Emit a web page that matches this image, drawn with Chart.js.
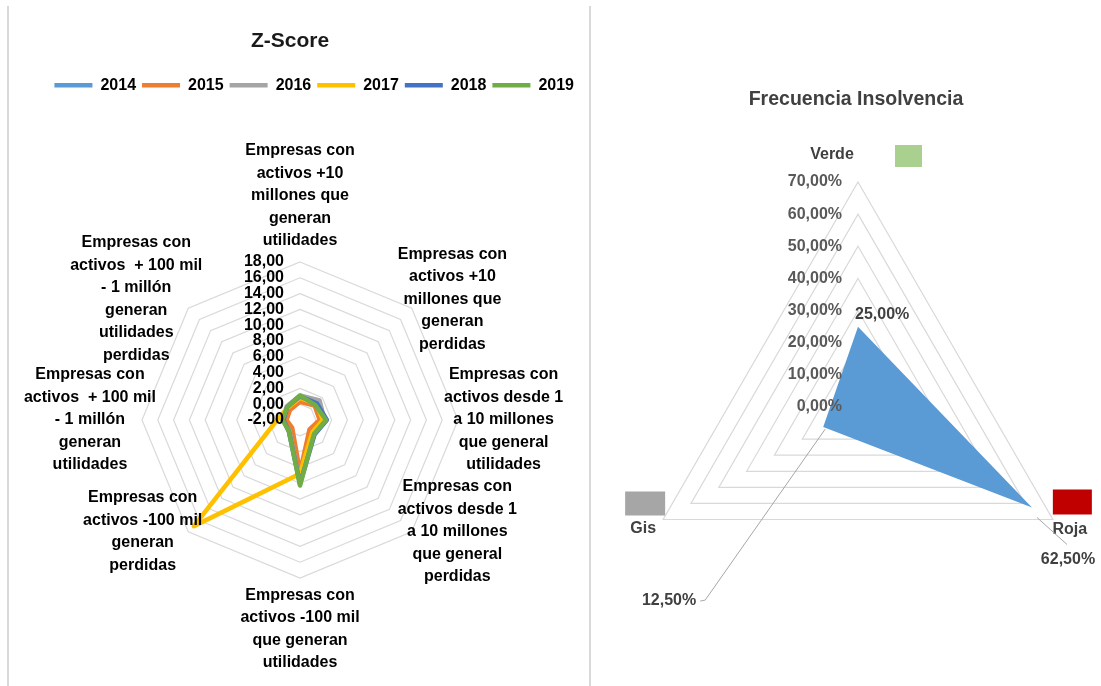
<!DOCTYPE html>
<html lang="es">
<head>
<meta charset="utf-8">
<title>Z-Score y Frecuencia Insolvencia</title>
<script src="https://cdn.jsdelivr.net/npm/chart.js@4.4.1/dist/chart.umd.min.js"></script>
<style>
  html, body { margin: 0; padding: 0; background: #fff; }
  body { width: 1101px; height: 686px; position: relative; overflow: hidden; }
  .marco {
    position: absolute; left: 7px; top: 6px; width: 584px; height: 680px;
    box-sizing: border-box;
    border-left: 2px solid #d9d9d9; border-right: 2px solid #d9d9d9;
  }
  #zscore { position: absolute; left: 0; top: 0; }
  #insolvencia { position: absolute; left: 611px; top: 0; }
</style>
</head>
<body>
<div class="marco"></div>
<canvas id="zscore" width="580" height="686"></canvas>
<canvas id="insolvencia" width="490" height="686"></canvas>
<script>
// categorias del radar Z-Score (cada una partida en lineas)
const categorias = [
  ['Empresas con', 'activos +10', 'millones que', 'generan', 'utilidades'],
  ['Empresas con', 'activos +10', 'millones que', 'generan', 'perdidas'],
  ['Empresas con', 'activos desde 1', 'a 10 millones', 'que general', 'utilidades'],
  ['Empresas con', 'activos desde 1', 'a 10 millones', 'que general', 'perdidas'],
  ['Empresas con', 'activos -100 mil', 'que generan', 'utilidades'],
  ['Empresas con', 'activos -100 mil', 'generan', 'perdidas'],
  ['Empresas con', 'activos  + 100 mil', '- 1 millón', 'generan', 'utilidades'],
  ['Empresas con', 'activos  + 100 mil', '- 1 millón', 'generan', 'utilidades', 'perdidas']
];

const anios = ['2014', '2015', '2016', '2017', '2018', '2019'];
const coloresAnio = ['#5b9bd5', '#ed7d31', '#a5a5a5', '#ffc000', '#4472c4', '#70ad47'];

const z2014 = [1.0, 1.4, 1.0, 0.3, 5.8, -0.2, 0.1, 0.3];
const z2015 = [0.3, 0.6, 0.5, -0.3, 4.6, -0.6, -0.3, -0.2];
const z2016 = [1.1, 1.5, 1.1, 0.4, 6.0, -0.1, 0.2, 0.4];
const z2017 = [0.8, 0.9, 0.9, 0.2, 4.8, 17.0, 0.9, 0.2];
const z2018 = [1.0, 1.0, 1.4, 0.6, 6.1, 0.0, 0.1, 0.3];
const z2019 = [1.1, 0.7, 1.3, 0.5, 6.3, 0.0, 0.2, 0.3];
const zTicks = [-2, 0, 2, 4, 6, 8, 10, 12, 14, 16, 18];

// frecuencia de insolvencia por nivel
const niveles = ['Verde', 'Roja', 'Gis'];
const nivelColores = ['#a9d08e', '#c00000', '#a6a6a6'];
const frecuencia = [25, 62.5, 12.5];
const pctTicks = [0, 10, 20, 30, 40, 50, 60, 70];

const zScores = [z2014, z2015, z2016, z2017, z2018, z2019];

const FUENTE = '"Liberation Sans", Arial, sans-serif';
Chart.defaults.font.family = FUENTE;

const coma = v => v.toFixed(2).replace('.', ',');
const pct = v => coma(v) + '%';

// deja el centro y el radio del radar donde se indica
const fijarRadar = {
  id: 'fijarRadar',
  afterLayout(chart, args, opts) {
    const r = chart.scales.r;
    r.xCenter = opts.x;
    r.yCenter = opts.y;
    r.drawingArea = opts.radio;
  }
};

// valores del eje y nombres de categoria del Z-Score
const rotulosZ = {
  id: 'rotulosZ',
  afterDraw(chart) {
    const ctx = chart.ctx;
    const r = chart.scales.r;
    ctx.save();
    ctx.fillStyle = '#000';
    ctx.font = 'bold 16px ' + FUENTE;
    ctx.textBaseline = 'middle';

    ctx.textAlign = 'right';
    r.ticks.forEach(t => {
      const p = r.getPointPositionForValue(0, t.value);
      ctx.fillText(coma(t.value), p.x - 16, p.y);
    });

    ctx.textAlign = 'center';
    const lh = 22.5;
    chart.data.labels.forEach((lineas, i) => {
      const p = r.getPointPosition(i, r.drawingArea);
      const ang = r.getIndexAngle(i);
      const dx = Math.sin(ang);
      const dy = -Math.cos(ang);
      const w = Math.max(...lineas.map(s => ctx.measureText(s).width));
      const h = lineas.length * lh;
      let cx, cy;
      if (Math.abs(dx) < 0.1) {
        cx = p.x;
        cy = dy < 0 ? p.y - 10 - h / 2 : p.y + 6 + h / 2;
      } else {
        cx = dx > 0 ? p.x - 14 + w / 2 : p.x + 14 - w / 2;
        cy = p.y + (dy < -0.1 ? -9 : 0);
      }
      const y0 = cy - h / 2 + lh / 2;
      lineas.forEach((s, j) => ctx.fillText(s, cx, y0 + j * lh));
    });
    ctx.restore();
  }
};

new Chart(document.getElementById('zscore'), {
  type: 'radar',
  data: {
    labels: categorias,
    datasets: anios.map((anio, i) => ({
      label: anio,
      data: zScores[i],
      borderColor: coloresAnio[i],
      backgroundColor: coloresAnio[i],
      borderWidth: 4.5,
      borderJoinStyle: 'round',
      fill: false,
      pointRadius: 0,
      pointHoverRadius: 0,
      order: anios.length - 1 - i,
      clip: false
    }))
  },
  options: {
    responsive: false,
    animation: false,
    events: [],
    layout: { padding: 0 },
    plugins: {
      title: {
        display: true,
        text: 'Z-Score',
        color: '#1a1a1a',
        font: { size: 21, weight: 'bold' },
        padding: { top: 29, bottom: 17 }
      },
      legend: {
        position: 'top',
        align: 'end',
        labels: {
          usePointStyle: true,
          pointStyle: 'line',
          pointStyleWidth: 38,
          color: '#000',
          font: { size: 16, weight: 'bold' },
          padding: 6,
          sort: (a, b) => a.datasetIndex - b.datasetIndex
        }
      },
      tooltip: { enabled: false },
      fijarRadar: { x: 300, y: 420, radio: 158 }
    },
    scales: {
      r: {
        min: zTicks[0],
        max: zTicks[zTicks.length - 1],
        ticks: { display: false, stepSize: zTicks[1] - zTicks[0] },
        grid: { color: '#d9d9d9', lineWidth: 1.2 },
        angleLines: { display: false },
        pointLabels: { display: false }
      }
    }
  },
  plugins: [fijarRadar, rotulosZ]
});

// donde va cada nombre de nivel y su cuadro de color, respecto al vertice
const ubicacionNiveles = [
  { texto: [-26, -27], caja: [37, -37, 27, 22] },
  { texto: [17, 10], caja: [0, -30, 39, 25] },
  { texto: [-20, 9], caja: [-38, -28, 40, 24] }
];
// donde va cada valor respecto a su punto, con linea guia si esta lejos
const ubicacionValores = [
  { alinear: 'left', texto: [-3, -12], guia: null },
  { alinear: 'center', texto: [36, 52], guia: [[5, 10], [35, 37]] },
  { alinear: 'right', texto: [-127, 174], guia: [[2, 2], [-118, 173], [-123, 174]] }
];

const rotulosFrecuencia = {
  id: 'rotulosFrecuencia',
  afterDraw(chart) {
    const ctx = chart.ctx;
    const r = chart.scales.r;
    ctx.save();
    ctx.font = 'bold 16px ' + FUENTE;
    ctx.textBaseline = 'middle';

    ctx.fillStyle = '#595959';
    ctx.textAlign = 'right';
    r.ticks.forEach(t => {
      const p = r.getPointPositionForValue(0, t.value);
      ctx.fillText(pct(t.value), p.x - 16, p.y);
    });

    ctx.textAlign = 'center';
    chart.data.labels.forEach((nivel, i) => {
      const p = r.getPointPosition(i, r.drawingArea);
      const u = ubicacionNiveles[i];
      ctx.fillStyle = nivelColores[i];
      ctx.fillRect(p.x + u.caja[0], p.y + u.caja[1], u.caja[2], u.caja[3]);
      ctx.fillStyle = '#404040';
      ctx.fillText(nivel, p.x + u.texto[0], p.y + u.texto[1]);
    });

    chart.data.datasets[0].data.forEach((v, i) => {
      const p = r.getPointPositionForValue(i, v);
      const e = ubicacionValores[i];
      if (e.guia) {
        ctx.strokeStyle = '#a6a6a6';
        ctx.lineWidth = 1;
        ctx.beginPath();
        e.guia.forEach(([gx, gy], k) => {
          if (k === 0) ctx.moveTo(p.x + gx, p.y + gy);
          else ctx.lineTo(p.x + gx, p.y + gy);
        });
        ctx.stroke();
      }
      ctx.fillStyle = '#404040';
      ctx.textAlign = e.alinear;
      ctx.fillText(pct(v), p.x + e.texto[0], p.y + e.texto[1]);
    });
    ctx.restore();
  }
};

new Chart(document.getElementById('insolvencia'), {
  type: 'radar',
  data: {
    labels: niveles,
    datasets: [{
      label: 'Frecuencia',
      data: frecuencia,
      backgroundColor: '#5b9bd5',
      borderColor: '#5b9bd5',
      borderWidth: 0,
      fill: true,
      pointRadius: 0,
      pointHoverRadius: 0,
      clip: false
    }]
  },
  options: {
    responsive: false,
    animation: false,
    events: [],
    layout: { padding: 0 },
    plugins: {
      title: {
        display: true,
        text: 'Frecuencia Insolvencia',
        color: '#404040',
        font: { size: 19.5, weight: 'bold' },
        padding: { top: 88, bottom: 20 }
      },
      legend: { display: false },
      tooltip: { enabled: false },
      fijarRadar: { x: 247, y: 407, radio: 225 }
    },
    scales: {
      r: {
        min: pctTicks[0],
        max: pctTicks[pctTicks.length - 1],
        ticks: { display: false, stepSize: pctTicks[1] - pctTicks[0] },
        grid: { color: '#d9d9d9', lineWidth: 1.2 },
        angleLines: { display: false },
        pointLabels: { display: false }
      }
    }
  },
  plugins: [fijarRadar, rotulosFrecuencia]
});
</script>
</body>
</html>
